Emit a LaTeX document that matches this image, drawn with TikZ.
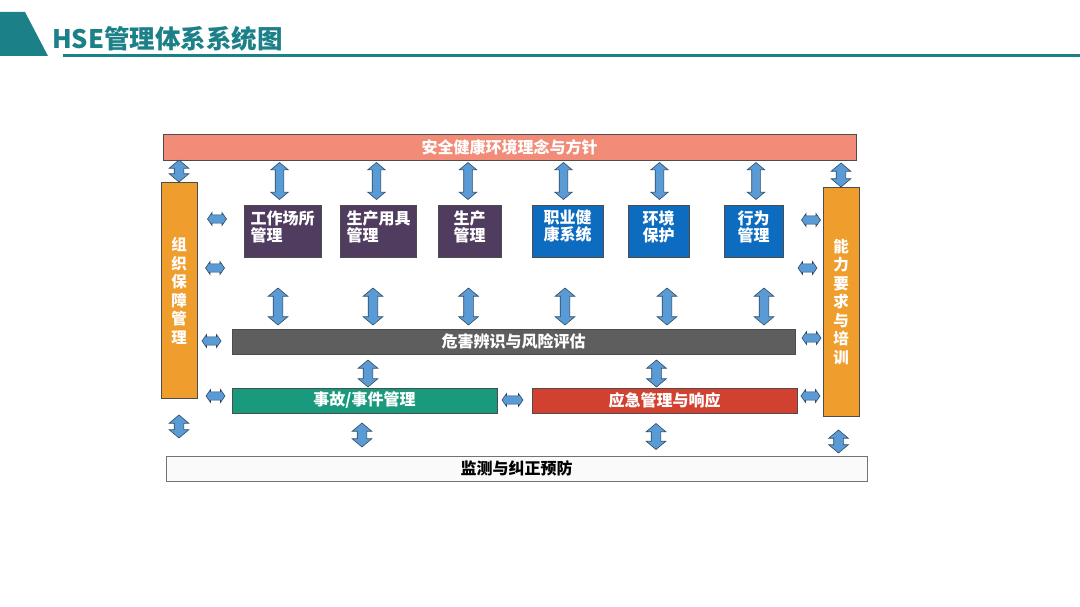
\documentclass[tikz,border=0pt]{standalone}
\usepackage{fontspec}
\setmainfont{Noto Sans CJK SC}
\usetikzlibrary{shapes.arrows}
\definecolor{teal1}{HTML}{1C8088}
\definecolor{salmon}{HTML}{F28C78}
\definecolor{orng}{HTML}{EF9D2C}
\definecolor{purp}{HTML}{4F3C5E}
\definecolor{blu}{HTML}{0E6CC0}
\definecolor{gry}{HTML}{5E5E5E}
\definecolor{grn}{HTML}{1A9A7C}
\definecolor{rd}{HTML}{D2402F}
\definecolor{arrowblue}{HTML}{5B9BD5}
\definecolor{arrowline}{HTML}{2E4A66}
\begin{document}
\begin{tikzpicture}[x=1pt,y=-1pt,
  box/.style={draw=black!70, line width=0.6pt, inner sep=0pt, text=white,
    font=\fontsize{16}{17}\selectfont\bfseries, align=center},
  label/.style={inner sep=0pt, text=white, font=\fontsize{16}{17}\selectfont\bfseries, align=left},
  vtext/.style={align=center, text=white, inner sep=0pt, font=\fontsize{15.5}{18.5}\selectfont\bfseries},
  varr/.style={double arrow, rotate=90, draw=arrowline, fill=arrowblue, line width=0.6pt,
    inner xsep=0pt, inner ysep=4pt, double arrow head extend=4.5pt, double arrow tip angle=100, minimum height=#1},
  varrb/.style={varr=#1, inner ysep=4.5pt, double arrow head extend=5pt},
  harr/.style={double arrow, draw=arrowline, fill=arrowblue, line width=0.6pt,
    inner xsep=0pt, inner ysep=3.8pt, double arrow head extend=2.3pt,
    double arrow tip angle=110, minimum height=19pt}
]
\useasboundingbox (0,0) rectangle (1080,607);
\fill[white] (0,0) rectangle (1080,607);
% header
\fill[teal1] (0,12) -- (25,12) -- (48,56) -- (0,56) -- cycle;
\draw[teal1, line width=2.2pt] (63,55.5) -- (1080,55.5);
\node[anchor=west, inner sep=0pt, text=teal1, font=\fontsize{25.5}{25.5}\selectfont\bfseries] (title) at (52,38.5) {HSE管理体系系统图};

% main boxes
\node[box, fill=salmon, minimum width=693pt, minimum height=26pt] (top) at (509.5,147) {安全健康环境理念与方针};
\node[box, fill=orng, minimum width=36pt, minimum height=216pt] (lbar) at (179,290) {};
\node[box, fill=orng, minimum width=36pt, minimum height=229pt] (rbar) at (841,301.5) {};
\node[vtext] (ltext) at (179,291) {组\\织\\保\\障\\管\\理};
\node[vtext] (rtext) at (841,302) {能\\力\\要\\求\\与\\培\\训};

\node[box, fill=purp, minimum width=77pt, minimum height=52pt] (p1) at (282.5,231) {};
\node[box, fill=purp, minimum width=76pt, minimum height=52pt] (p2) at (378.5,231) {};
\node[box, fill=purp, minimum width=63pt, minimum height=52pt] (p3) at (469.5,231) {};
\node[box, fill=blu, minimum width=71pt, minimum height=52pt] (b1) at (567.5,231) {};
\node[box, fill=blu, minimum width=61pt, minimum height=52pt] (b2) at (658.5,231) {};
\node[box, fill=blu, minimum width=59pt, minimum height=52pt] (b3) at (753.5,231) {};
\node[label] (t1) at (282.5,226.5) {工作场所\\管理};
\node[label] (t2) at (378.5,226.5) {生产用具\\管理};
\node[label] (t3) at (469.5,226.5) {生产\\管理};
\node[label] (t4) at (567.5,226.5) {职业健\\康系统};
\node[label] (t5) at (658.5,226.5) {环境\\保护};
\node[label] (t6) at (753.5,226.5) {行为\\管理};

\node[box, fill=gry, minimum width=563pt, minimum height=25pt] (haz) at (513.5,341.5) {危害辨识与风险评估};
\node[box, fill=grn, minimum width=265pt, minimum height=25pt] (acc) at (364.5,400.5) {事故/事件管理};
\node[box, fill=rd, minimum width=265pt, minimum height=25pt] (emg) at (664.5,400.5) {应急管理与响应};
\node[box, fill=black!2, draw=black!55, text=black, minimum width=701pt, minimum height=25pt] (mon) at (516.5,468.5) {监测与纠正预防};

% top row vertical arrows
\node[varrb=22pt] (a0) at (179,171) {};
\node[varr=37pt] (a1) at (279.5,181) {};
\node[varr=37pt] (a2) at (376.5,181) {};
\node[varr=37pt] (a3) at (468,181) {};
\node[varr=37pt] (a4) at (563.5,181) {};
\node[varr=37pt] (a5) at (659.5,181) {};
\node[varr=37pt] (a6) at (756,181) {};
\node[varrb=24pt] (a7) at (841,175) {};

% middle row
\node[varrb=37pt] (m1) at (278,306.5) {};
\node[varrb=37pt] (m2) at (373,306.5) {};
\node[varrb=37pt] (m3) at (468.5,306.5) {};
\node[varrb=37pt] (m4) at (565,306.5) {};
\node[varrb=37pt] (m5) at (667,306.5) {};
\node[varrb=37pt] (m6) at (764,306.5) {};

% lower vertical arrows
\node[varrb=27pt] (d1) at (368,373.5) {};
\node[varrb=27pt] (d2) at (656.5,373.5) {};
\node[varrb=24pt] (e1) at (362,435) {};
\node[varrb=26pt] (e2) at (656,436.5) {};
\node[varrb=23pt] (e0) at (179,426.5) {};
\node[varrb=23pt] (e3) at (838.5,441.5) {};

% side horizontal arrows
\node[harr] (l1) at (217,219) {};
\node[harr] (l2) at (215,268) {};
\node[harr] (l3) at (211.5,341) {};
\node[harr] (l4) at (215.5,396) {};
\node[harr] (r1) at (811,220) {};
\node[harr] (r2) at (807.5,268) {};
\node[harr] (r3) at (811.5,338) {};
\node[harr] (r4) at (810.5,396) {};
\node[harr, minimum height=21pt] (c1) at (512.5,400) {};
\end{tikzpicture}
\end{document}
